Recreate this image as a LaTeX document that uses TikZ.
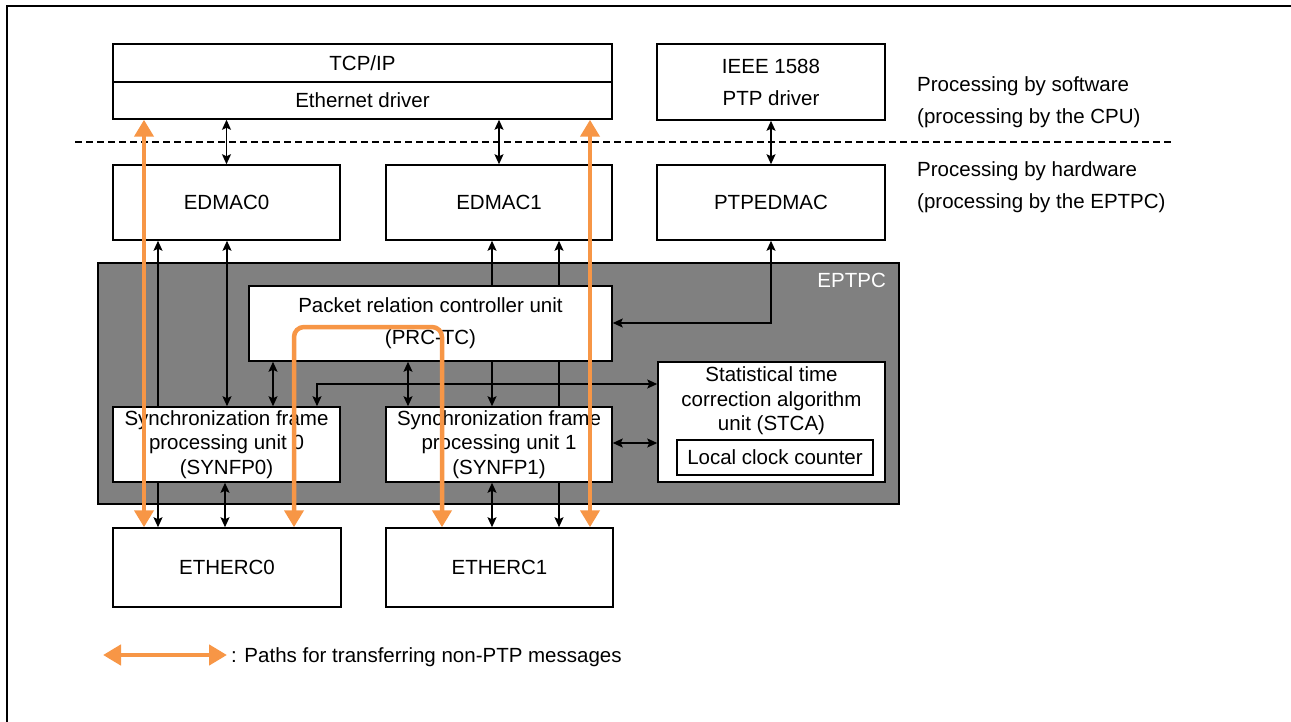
\documentclass[tikz,border=0pt]{standalone}
\usepackage{fontspec}
\setmainfont{Liberation Sans}
\usetikzlibrary{arrows.meta}
\definecolor{orng}{RGB}{247,150,70}
\definecolor{grayfill}{RGB}{128,128,128}
\pgfdeclarelayer{back}
\pgfdeclarelayer{mid}
\pgfsetlayers{back,mid,main}
\begin{document}
\begin{tikzpicture}[x=1pt,y=-1pt,
  every node/.style={font=\fontsize{20.5pt}{24.5pt}\selectfont, inner sep=0pt},
  blk/.style={draw, line width=1.5pt, fill=white, align=center},
  biarr/.style={line width=1.5pt, {Stealth[length=10pt,width=9pt,inset=2pt]}-{Stealth[length=10pt,width=9pt,inset=2pt]}},
  oarr/.style={draw=orng, line width=4.5pt, {Triangle[length=17pt,width=19pt]}-{Triangle[length=17pt,width=19pt]}}
]
\useasboundingbox (0,0) rectangle (1291,722);
\draw[line width=2pt] (7,722) -- (7,6) -- (1291,6);

% column / row coordinates
\coordinate (xa) at (158,0);
\coordinate (xb) at (227,0);
\coordinate (xb2) at (225,0);
\coordinate (xc) at (273,0);
\coordinate (xd) at (317,0);
\coordinate (xe) at (408,0);
\coordinate (xf) at (492,0);
\coordinate (xg) at (559,0);
\coordinate (xo1) at (144,0);
\coordinate (xo2) at (590,0);
\coordinate (xo3) at (294,0);
\coordinate (xo4) at (442,0);
\coordinate (yd) at (0,384);
\coordinate (yp) at (771,323);
\coordinate (yo) at (0,327);
\coordinate (ys) at (0,443);

% software layer
\node[blk, minimum width=499pt, minimum height=38pt] (tcp) at (362.5,63) {TCP/IP};
\node[blk, minimum width=499pt, minimum height=37pt] (eth) at (362.5,100.5) {Ethernet driver};
\node[blk, minimum width=228pt, minimum height=76pt, font=\fontsize{20.5pt}{32pt}\selectfont] (ieee) at (771,82) {IEEE 1588\\PTP driver};

\coordinate (dl) at (75,142);
\coordinate (dr) at (1173,142);
\draw[line width=1.5pt, dash pattern=on 7pt off 4pt] (dl) -- (dr);

\node[anchor=west, align=left, font=\fontsize{20.5pt}{32pt}\selectfont] (sw) at (917,102) {Processing by software\\(processing by the CPU)};
\node[anchor=west, align=left, font=\fontsize{20.5pt}{32pt}\selectfont] (hw) at (917,187) {Processing by hardware\\(processing by the EPTPC)};

% hardware
\node[blk, minimum width=227pt, minimum height=75pt] (edmac0) at (226.5,202.5) {EDMAC0};
\node[blk, minimum width=226pt, minimum height=75pt] (edmac1) at (499,202.5) {EDMAC1};
\node[blk, minimum width=228pt, minimum height=75pt] (ptpedmac) at (771,202.5) {PTPEDMAC};

\begin{pgfonlayer}{back}
\node[draw, line width=1.5pt, fill=grayfill, minimum width=801pt, minimum height=241pt] (eptpc) at (498.5,383.5) {};
\end{pgfonlayer}
\node[text=white, anchor=east] (eptpclbl) at (886,280) {EPTPC};

\node[blk, minimum width=363pt, minimum height=75pt, font=\fontsize{20.5pt}{32pt}\selectfont] (prc) at (430.5,323.5) {Packet relation controller unit\\(PRC-TC)};
\node[blk, minimum width=227pt, minimum height=75pt] (synfp0) at (226.5,444.5) {Synchronization frame\\processing unit 0\\(SYNFP0)};
\node[blk, minimum width=226pt, minimum height=75pt] (synfp1) at (499,444.5) {Synchronization frame\\processing unit 1\\(SYNFP1)};
\node[blk, minimum width=227pt, minimum height=120pt] (stca) at (771.5,422) {};
\node[align=center] (stcatxt) at (771.5,401) {Statistical time\\correction algorithm\\unit (STCA)};
\node[blk, minimum width=196pt, minimum height=35pt] (lcc) at (775,457.5) {Local clock counter};

\node[blk, minimum width=228pt, minimum height=79pt] (etherc0) at (227,567.5) {ETHERC0};
\node[blk, minimum width=227pt, minimum height=79pt] (etherc1) at (499.5,567.5) {ETHERC1};

% pass-through lines behind blocks
\begin{pgfonlayer}{mid}
\draw[biarr] (edmac0.south -| xa) -- (etherc0.north -| xa);
\draw[biarr] (edmac1.south -| xf) -- (synfp1.north -| xf);
\draw[biarr] (edmac1.south -| xg) -- (etherc1.north -| xg);
\end{pgfonlayer}

% black connectors
\draw[biarr] (eth.south -| edmac0.north) -- (edmac0.north);
\draw[biarr] (eth.south -| edmac1.north) -- (edmac1.north);
\draw[biarr] (ieee.south) -- (ptpedmac.north);
\draw[biarr] (edmac0.south -| xb) -- (synfp0.north -| xb);
\draw[biarr] (synfp0.south -| xb2) -- (etherc0.north -| xb2);
\draw[biarr] (prc.south -| xc) -- (synfp0.north -| xc);
\draw[biarr] (prc.south -| xe) -- (synfp1.north -| xe);
\draw[biarr] (synfp1.south -| xf) -- (etherc1.north -| xf);
\draw[biarr] (synfp0.north -| xd) -- (xd |- yd) -- (stca.west |- yd);
\draw[biarr] (synfp1.east |- ys) -- (stca.west |- ys);
\draw[biarr] (ptpedmac.south) -- (yp) -- (prc.east |- yp);

% orange paths
\draw[oarr] (eth.south -| xo1) -- (etherc0.north -| xo1);
\draw[oarr] (eth.south -| xo2) -- (etherc1.north -| xo2);
\draw[oarr, rounded corners=10pt] (etherc0.north -| xo3) -- (xo3 |- yo) -- (xo4 |- yo) -- (etherc1.north -| xo4);

% legend
\coordinate (lgl) at (103,655);
\coordinate (lgr) at (227,655);
\draw[draw=orng, line width=4.5pt, {Triangle[length=18pt,width=20pt]}-{Triangle[length=18pt,width=20pt]}] (lgl) -- (lgr);
\node[anchor=west] (lgtxt) at (231,657) {: Paths for transferring non-PTP messages};
\end{tikzpicture}
\end{document}
